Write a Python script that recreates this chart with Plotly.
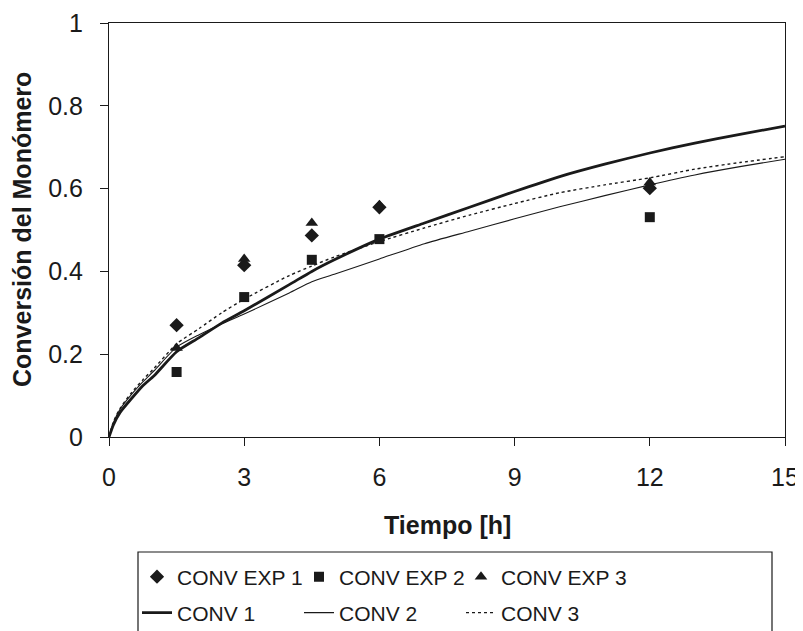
import plotly.graph_objects as go

# Experimental data
t_exp = [1.5, 3, 4.5, 6, 12]
conv_exp1 = [0.27, 0.415, 0.487, 0.555, 0.601]
conv_exp2 = [0.157, 0.338, 0.428, 0.478, 0.531]
conv_exp3 = [0.215, 0.43, 0.517, 0.56, 0.615]

# Model curves
t_mod = [0, 0.1, 0.25, 0.5, 0.75, 1, 1.5, 2, 2.5, 3, 4, 4.5, 5, 6, 7, 8, 9, 10, 11, 12, 13, 14, 15]
conv1 = [0, 0.03, 0.06, 0.093, 0.124, 0.148, 0.206, 0.24, 0.275, 0.305, 0.368, 0.40, 0.428,
         0.478, 0.517, 0.555, 0.593, 0.629, 0.659, 0.686, 0.71, 0.731, 0.751]
conv2 = [0, 0.035, 0.068, 0.103, 0.133, 0.16, 0.217, 0.247, 0.273, 0.297, 0.348, 0.375, 0.393,
         0.43, 0.467, 0.497, 0.527, 0.556, 0.583, 0.609, 0.633, 0.653, 0.671]
conv3 = [0, 0.037, 0.07, 0.107, 0.138, 0.166, 0.225, 0.262, 0.3, 0.333, 0.39, 0.413, 0.435,
         0.472, 0.505, 0.536, 0.564, 0.59, 0.609, 0.626, 0.647, 0.663, 0.677]

x_ticks = [0, 3, 6, 9, 12, 15]
y_ticks = [0, 0.2, 0.4, 0.6, 0.8, 1]

FONT = "Liberation Sans, Arial, sans-serif"
INK = "#1a1a1a"

fig = go.Figure()
fig.add_trace(go.Scatter(x=t_mod, y=conv1, mode="lines", name="CONV 1",
                         line=dict(color=INK, width=2.8, shape="spline", smoothing=0.6),
                         legend="legend2"))
fig.add_trace(go.Scatter(x=t_mod, y=conv2, mode="lines", name="CONV 2",
                         line=dict(color=INK, width=1.1, shape="spline", smoothing=0.6),
                         legend="legend2"))
fig.add_trace(go.Scatter(x=t_mod, y=conv3, mode="lines", name="CONV 3",
                         line=dict(color=INK, width=1.4, dash="dot", shape="spline", smoothing=0.6),
                         legend="legend2", legendwidth=140))
fig.add_trace(go.Scatter(x=t_exp, y=conv_exp1, mode="markers", name="CONV EXP 1",
                         marker=dict(symbol="diamond", size=11, color=INK), legend="legend"))
fig.add_trace(go.Scatter(x=t_exp, y=conv_exp2, mode="markers", name="CONV EXP 2",
                         marker=dict(symbol="square", size=10, color=INK), legend="legend"))
fig.add_trace(go.Scatter(x=t_exp, y=conv_exp3, mode="markers", name="CONV EXP 3",
                         marker=dict(symbol="triangle-up", size=11, color=INK), legend="legend",
                         legendwidth=140))

# The page body has an 8px margin: work in page pixels and convert.
OFF = 8
PAGE_W, PAGE_H = 803, 631
W, H = PAGE_W - OFF, PAGE_H - OFF
PL, PR, PT, PB = 109, 785, 23, 437          # plot area in page pixels
L, T = PL - OFF, PT - OFF
R, B = PAGE_W - PR, PAGE_H - PB
pw, ph = PR - PL, PB - PT

def px_x(p):
    return (p - PL) / pw

def px_y(p):
    return (PB - p) / ph

axis_common = dict(showline=True, linecolor=INK, linewidth=1.2, mirror=True,
                   ticks="outside", ticklen=8, tickcolor=INK, tickwidth=1,
                   showgrid=False, zeroline=False,
                   tickfont=dict(family=FONT, size=25, color=INK))

fig.update_layout(
    width=W, height=H,
    margin=dict(l=L, r=R, t=T, b=B, autoexpand=False),
    paper_bgcolor="white", plot_bgcolor="white",
    showlegend=True,
    xaxis=dict(range=[0, 15], tickvals=x_ticks, ticklabelstandoff=10, **axis_common),
    yaxis=dict(range=[0, 1], tickvals=y_ticks, ticklabelstandoff=12, **axis_common),
    legend=dict(orientation="h", x=px_x(137), xanchor="left", y=px_y(577), yanchor="middle",
                entrywidth=117, entrywidthmode="pixels", bgcolor="rgba(0,0,0,0)",
                font=dict(family=FONT, size=21, color=INK)),
    legend2=dict(orientation="h", x=px_x(137), xanchor="left", y=px_y(613), yanchor="middle",
                 entrywidth=117, entrywidthmode="pixels", bgcolor="rgba(0,0,0,0)",
                 font=dict(family=FONT, size=21, color=INK)),
    shapes=[dict(type="rect", xref="paper", yref="paper",
                 x0=px_x(138), x1=px_x(772), y0=px_y(552), y1=px_y(670),
                 line=dict(color=INK, width=1.2), fillcolor="rgba(0,0,0,0)")],
    annotations=[
        dict(text="<b>Tiempo [h]</b>", xref="paper", yref="paper", x=0.5, y=px_y(525),
             xanchor="center", yanchor="middle", showarrow=False,
             font=dict(family=FONT, size=25, color=INK)),
        dict(text="<b>Conversión del Monómero</b>", xref="paper", yref="paper",
             x=px_x(22), y=0.5, xanchor="center", yanchor="middle", textangle=-90,
             showarrow=False, font=dict(family=FONT, size=25, color=INK)),
    ],
)

fig.write_html("out.html")
